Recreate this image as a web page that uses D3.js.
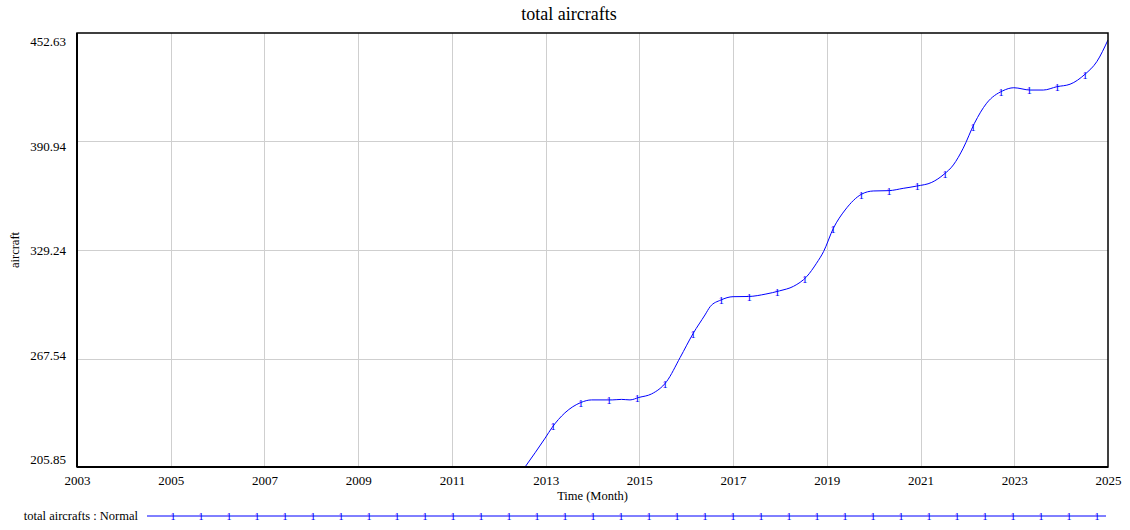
<!DOCTYPE html>
<html>
<head>
<meta charset="utf-8">
<script src="https://cdn.jsdelivr.net/npm/d3@7"></script>
<style>
  html, body { margin: 0; padding: 0; background: #fff; }
  svg { display: block; }
  svg text { font-family: "Liberation Serif", "Times New Roman", Times, "DejaVu Serif", serif; }
</style>
</head>
<body>
<svg id="chart" width="1130" height="530"></svg>
<script>
// Simulation output: total aircrafts over time (decimal years)
const timeYears = [2012.56, 2012.99, 2013.14, 2013.41, 2013.75, 2013.98, 2014.42, 2014.62, 2014.80, 2014.99,
  2015.26, 2015.58, 2015.87, 2016.15, 2016.40, 2016.51, 2016.74, 2017.00, 2017.33, 2017.70,
  2017.99, 2018.29, 2018.57, 2018.78, 2018.93, 2019.14, 2019.39, 2019.75, 2019.99, 2020.33,
  2020.63, 2020.92, 2021.24, 2021.50, 2021.70, 2021.91, 2022.15, 2022.41, 2022.75, 2022.99,
  2023.34, 2023.62, 2023.91, 2024.19, 2024.51, 2024.76, 2025.00];
const totalAircrafts = [205.85, 222.3, 228.4, 236.6, 242.5, 244.0, 244.0, 244.3, 244.0, 245.4,
  247.4, 254.4, 268.1, 281.9, 292.3, 297.0, 300.8, 302.7, 302.8, 304.2,
  306.0, 308.6, 314.1, 321.7, 328.3, 341.6, 352.0, 361.1, 362.8, 363.0,
  364.3, 365.6, 367.7, 372.3, 377.6, 387.1, 401.3, 412.7, 419.7, 421.5,
  420.2, 420.2, 422.1, 423.5, 429.2, 436.3, 448.7];

const yearTicks = [2003, 2005, 2007, 2009, 2011, 2013, 2015, 2017, 2019, 2021, 2023, 2025];
const valueTicks = [205.85, 267.54, 329.24, 390.94, 452.63];

const chartTitle = "total aircrafts";
const xAxisTitle = "Time (Month)";
const yAxisTitle = "aircraft";
const seriesLabel = "total aircrafts : Normal";
const seriesMarker = "1";

const FONT = "'Liberation Serif', 'Times New Roman', Times, 'DejaVu Serif', serif";
const svg = d3.select("#chart");
const W = 1130;
const plot = { left: 77, right: 1108, top: 33, bottom: 467 };
const lineColor = "#0000ff";

const x = d3.scaleLinear().domain([yearTicks[0], yearTicks[yearTicks.length - 1]]).range([plot.left, plot.right]);
const y = d3.scaleLinear().domain([valueTicks[0], valueTicks[valueTicks.length - 1]]).range([plot.bottom, plot.top]);
// value labels are spread slightly inside the frame
const yLabel = d3.scaleLinear().domain(y.domain()).range([plot.bottom - 7.5, plot.top + 8.7]);

// grid
svg.append("g")
  .attr("transform", `translate(0,${plot.bottom})`)
  .call(d3.axisBottom(x).tickValues(yearTicks.slice(1, -1)).tickSize(-(plot.bottom - plot.top)).tickFormat(""))
  .call(g => g.select(".domain").remove())
  .call(g => g.selectAll("line").attr("stroke", "#cfcfcf").attr("stroke-width", 1).attr("shape-rendering", "crispEdges"));
svg.append("g")
  .attr("transform", `translate(${plot.left},0)`)
  .call(d3.axisLeft(y).tickValues(valueTicks.slice(1, -1)).tickSize(-(plot.right - plot.left)).tickFormat(""))
  .call(g => g.select(".domain").remove())
  .call(g => g.selectAll("line").attr("stroke", "#cfcfcf").attr("stroke-width", 1).attr("shape-rendering", "crispEdges"));

// series
svg.append("clipPath").attr("id", "plotClip")
  .append("rect").attr("x", plot.left).attr("y", plot.top)
  .attr("width", plot.right - plot.left).attr("height", plot.bottom - plot.top);

const pts = timeYears.map((t, i) => [t, totalAircrafts[i]]);
const line = d3.line().x(d => x(d[0])).y(d => y(d[1])).curve(d3.curveMonotoneX);
const path = svg.append("path")
  .attr("clip-path", "url(#plotClip)")
  .attr("d", line(pts))
  .attr("fill", "none")
  .attr("stroke", lineColor)
  .attr("stroke-width", 1);

// series markers every 28px along the time axis
const node = path.node();
const total = node.getTotalLength();
const samples = [];
for (let l = 0; l <= total; l += 0.5) samples.push(node.getPointAtLength(l));
const markerStep = 28;
const markerG = svg.append("g").attr("clip-path", "url(#plotClip)");
function drawMarker(g, mx, my) {
  g.append("text")
    .attr("x", mx).attr("y", my + 4.3)
    .attr("text-anchor", "middle")
    .attr("font-family", FONT)
    .attr("font-size", 11)
    .attr("fill", lineColor)
    .text(seriesMarker);
}
for (let mx = plot.left + markerStep; mx < plot.right; mx += markerStep) {
  if (mx < x(timeYears[0])) continue;
  let best = samples[0];
  for (const p of samples) if (Math.abs(p.x - mx) < Math.abs(best.x - mx)) best = p;
  if (best.y > plot.bottom - 4) continue;
  drawMarker(markerG, best.x, best.y);
}

// frame
svg.append("rect")
  .attr("x", plot.left).attr("y", plot.top)
  .attr("width", plot.right - plot.left).attr("height", plot.bottom - plot.top)
  .attr("fill", "none").attr("stroke", "#000").attr("stroke-width", 1.5);
svg.append("line").attr("x1", plot.left).attr("x2", plot.left).attr("y1", plot.top).attr("y2", plot.bottom)
  .attr("stroke", "#000").attr("stroke-width", 2);
svg.append("line").attr("x1", plot.left).attr("x2", plot.right).attr("y1", plot.bottom).attr("y2", plot.bottom)
  .attr("stroke", "#000").attr("stroke-width", 2);

// axis labels
svg.append("g")
  .attr("transform", `translate(0,${plot.bottom})`)
  .call(d3.axisBottom(x).tickValues(yearTicks).tickSize(0).tickPadding(9).tickFormat(d3.format("d")))
  .call(g => g.select(".domain").remove())
  .attr("font-family", FONT)
  .call(g => g.selectAll("text").attr("font-size", 13).attr("fill", "#000").attr("font-family", FONT));
svg.append("g")
  .attr("transform", `translate(${plot.left - 11},0)`)
  .call(d3.axisLeft(yLabel).tickValues(valueTicks).tickSize(0).tickPadding(0).tickFormat(d3.format(".2f")))
  .call(g => g.select(".domain").remove())
  .attr("font-family", FONT)
  .call(g => g.selectAll("text").attr("font-size", 13).attr("fill", "#000").attr("font-family", FONT));

// titles
svg.append("text").attr("x", W / 2 + 4).attr("y", 20)
  .attr("text-anchor", "middle").attr("font-family", FONT).attr("font-size", 18).text(chartTitle);
svg.append("text").attr("x", (plot.left + plot.right) / 2).attr("y", 500)
  .attr("text-anchor", "middle").attr("font-family", FONT).attr("font-size", 12.5).text(xAxisTitle);
svg.append("text")
  .attr("transform", `translate(19,${(plot.top + plot.bottom) / 2}) rotate(-90)`)
  .attr("text-anchor", "middle").attr("font-family", FONT).attr("font-size", 12.5).text(yAxisTitle);

// legend
const legY = 516;
svg.append("text").attr("x", 138).attr("y", legY + 4)
  .attr("text-anchor", "end").attr("font-family", FONT).attr("font-size", 12.5).text(seriesLabel);
svg.append("line").attr("x1", 147).attr("x2", 1106).attr("y1", legY).attr("y2", legY)
  .attr("stroke", lineColor).attr("stroke-width", 1);
for (let mx = 173; mx <= 1100; mx += markerStep) drawMarker(svg, mx, legY);
</script>
</body>
</html>
